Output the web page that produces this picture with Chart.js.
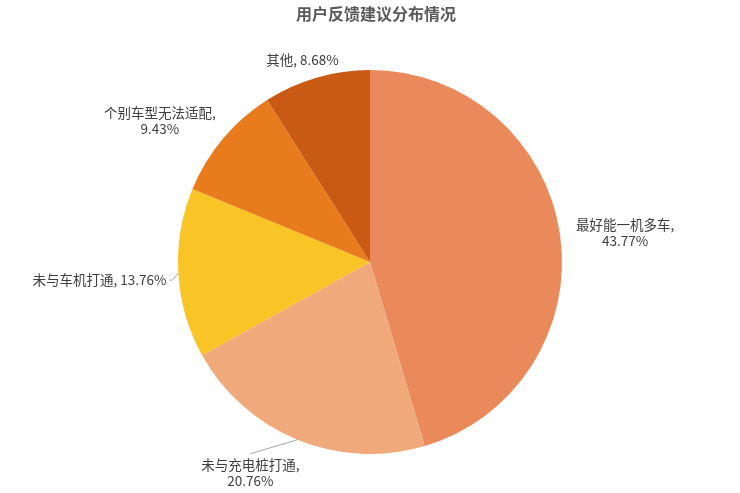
<!DOCTYPE html>
<html>
<head>
<meta charset="utf-8">
<script src="https://cdn.jsdelivr.net/npm/chart.js@4"></script>
<style>
html,body{margin:0;padding:0;background:#fff;}
#wrap{width:740px;height:493px;}
</style>
</head>
<body>
<div id="wrap"><canvas id="c" width="740" height="493"></canvas></div>
<script>
const chartTitle = '用户反馈建议分布情况';
const categories = ['最好能一机多车', '未与充电桩打通', '未与车机打通', '个别车型无法适配', '其他'];
const values = [43.77, 20.76, 13.76, 9.43, 8.68];
const valueLabels = ['43.77%', '20.76%', '13.76%', '9.43%', '8.68%'];

const colors = ['#EA8A5A', '#F0A97A', '#F9C426', '#E87C1D', '#C95A14'];
// label placement relative to the slice's outer mid-angle anchor
const labelLayout = [
  {lines: 2, dx: 65, dy: -2, align: 'center', leader: false},
  {lines: 2, dx: -47, dy: 33, align: 'center', leader: true},
  {lines: 1, dx: -12, dy: 7, align: 'right', leader: true},
  {lines: 2, dx: -63, dy: -18, align: 'center', leader: false},
  {lines: 1, dx: -14, dy: -18, align: 'center', leader: false}
];

const FONT = '"Noto Sans CJK SC", "Noto Sans", sans-serif';

const labelPlugin = {
  id: 'pieLabels',
  afterDraw(chart) {
    const ctx = chart.ctx;
    ctx.save();
    // title
    ctx.fillStyle = '#595959';
    ctx.font = 'bold 16px ' + FONT;
    ctx.textAlign = 'center';
    ctx.textBaseline = 'middle';
    ctx.fillText(chartTitle, 376, 14);

    const meta = chart.getDatasetMeta(0);
    ctx.font = '13.5px ' + FONT;
    ctx.fillStyle = '#404040';
    meta.data.forEach((arc, i) => {
      const p = arc.getProps(['x', 'y', 'startAngle', 'endAngle', 'outerRadius'], true);
      const mid = (p.startAngle + p.endAngle) / 2;
      const ax = p.x + Math.cos(mid) * p.outerRadius;
      const ay = p.y + Math.sin(mid) * p.outerRadius;
      const L = labelLayout[i];
      const tx = ax + L.dx, ty = ay + L.dy;
      const lh = 16;
      let lines;
      if (L.lines === 2) lines = [categories[i] + ',', valueLabels[i]];
      else lines = [categories[i] + ', ' + valueLabels[i]];
      ctx.textAlign = L.align;
      ctx.textBaseline = 'middle';
      const y0 = ty - (lines.length - 1) * lh / 2;
      lines.forEach((t, k) => ctx.fillText(t, tx, y0 + k * lh));
      if (L.leader) {
        ctx.strokeStyle = '#A6A6A6';
        ctx.lineWidth = 1;
        ctx.beginPath();
        if (L.align === 'right') {
          ctx.moveTo(tx + 3, ty);
          ctx.lineTo(tx + 6, ty);
          ctx.lineTo(ax, ay);
        } else {
          ctx.moveTo(tx, y0 - 11);
          ctx.lineTo(ax, ay);
        }
        ctx.stroke();
      }
    });
    ctx.restore();
  }
};

new Chart(document.getElementById('c'), {
  type: 'pie',
  data: {
    labels: categories,
    datasets: [{
      data: values,
      backgroundColor: colors,
      borderWidth: 0
    }]
  },
  options: {
    responsive: false,
    animation: false,
    layout: {padding: {top: 70, bottom: 39, left: 0, right: 0}},
    plugins: {
      legend: {display: false},
      title: {display: false},
      tooltip: {enabled: false}
    }
  },
  plugins: [labelPlugin]
});
</script>
</body>
</html>
